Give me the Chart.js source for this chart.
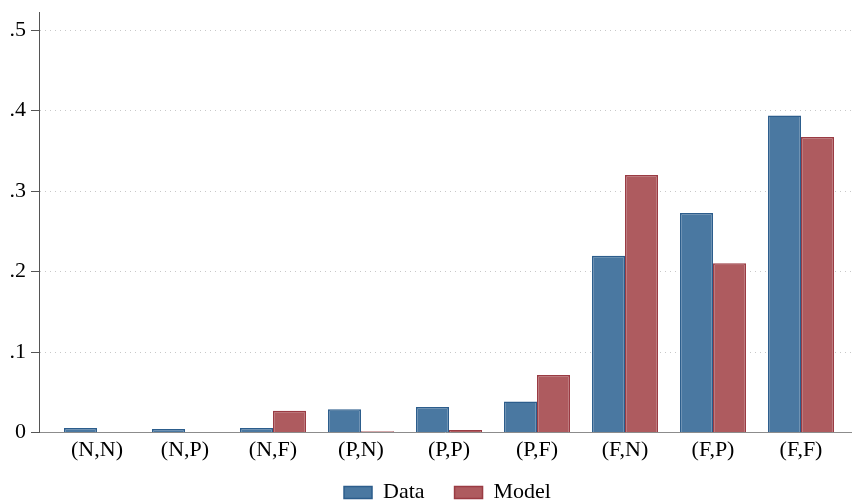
<!DOCTYPE html>
<html>
<head>
<meta charset="utf-8">
<script src="https://cdn.jsdelivr.net/npm/chart.js@4/dist/chart.umd.min.js"></script>
<style>
  html, body { margin: 0; padding: 0; background: #ffffff; }
  #wrap { width: 852px; height: 502px; }
</style>
</head>
<body>
<div id="wrap"><canvas id="chart" width="852" height="502"></canvas></div>
<script>
// Outcome pairs and the shares observed in the data vs. predicted by the model
const categories = ["(N,N)", "(N,P)", "(N,F)", "(P,N)", "(P,P)", "(P,F)", "(F,N)", "(F,P)", "(F,F)"];
const dataShares  = [0.0055, 0.0042, 0.0055, 0.029, 0.0316, 0.0385, 0.2195, 0.2726, 0.3937];
const modelShares = [0, 0, 0.027, 0.0017, 0.003, 0.0715, 0.320, 0.2104, 0.367];
const yTickValues = [0, 0.1, 0.2, 0.3, 0.4, 0.5];
const yTickLabels = ["0", ".1", ".2", ".3", ".4", ".5"];

const serif = "'Liberation Serif', 'Times New Roman', serif";

// Place the legend centred under the plot region, in the bottom strip
const legendShift = {
  id: 'legendShift',
  afterLayout(chart) {
    const lg = chart.legend;
    if (!lg) return;
    const dx = 22;
    lg.left += dx; lg.right += dx;
    lg.top = 451.5;
    lg.bottom = chart.height;
    lg.height = lg.bottom - lg.top;
  }
};

new Chart(document.getElementById('chart'), {
  type: 'bar',
  data: {
    datasets: [
      {
        label: 'Data',
        data: dataShares.map((v, i) => ({ x: i, y: v })),
        backgroundColor: '#4a78a1',
        borderColor: '#2c5d8c',
        borderWidth: 1.5
      },
      {
        label: 'Model',
        data: modelShares.map((v, i) => ({ x: i, y: v })),
        backgroundColor: '#ae5b5f',
        borderColor: '#9a3b43',
        borderWidth: 1.5
      }
    ]
  },
  options: {
    responsive: false,
    animation: false,
    events: [],
    categoryPercentage: 0.75,
    barPercentage: 1.0,
    layout: { padding: { top: 12, right: 1, bottom: 0, left: 0 } },
    plugins: {
      tooltip: { enabled: false },
      legend: {
        position: 'bottom',
        maxHeight: 31.5,
        labels: {
          boxWidth: 28,
          boxHeight: 12,
          padding: 30,
          color: '#000',
          font: { family: serif, size: 22 }
        }
      }
    },
    scales: {
      x: {
        type: 'linear',
        min: -0.659,
        max: 8.568,
        offset: false,
        grid: { display: false, drawTicks: false },
        border: { display: true, color: '#8c8c8c', width: 1 },
        afterBuildTicks: (scale) => { scale.ticks = categories.map((c, i) => ({ value: i })); },
        afterFit: (scale) => {
          scale.height = 38;
          scale.paddingLeft = 0; scale.paddingRight = 0;
        },
        ticks: {
          autoSkip: false,
          maxRotation: 0,
          padding: 5,
          color: '#000',
          font: { family: serif, size: 22 },
          callback: (v) => categories[v]
        }
      },
      y: {
        min: 0,
        max: 0.5224,
        grid: {
          color: (ctx) => (ctx.tick && ctx.tick.value === 0) ? 'rgba(0,0,0,0)' : '#c8c8c8',
          lineWidth: 1,
          drawTicks: true,
          tickLength: 8,
          tickColor: '#555555',
          tickWidth: 1,
          tickBorderDash: []
        },
        border: { display: true, color: '#555555', width: 1, dash: [1, 4] },
        afterBuildTicks: (scale) => { scale.ticks = yTickValues.map(v => ({ value: v })); },
        afterFit: (scale) => {
          scale.width = 39;
          scale.paddingTop = 0; scale.paddingBottom = 0;
        },
        ticks: {
          padding: 5,
          color: '#000',
          font: { family: serif, size: 22 },
          callback: (v, i) => yTickLabels[i]
        }
      }
    }
  },
  plugins: [legendShift]
});
</script>
</body>
</html>
